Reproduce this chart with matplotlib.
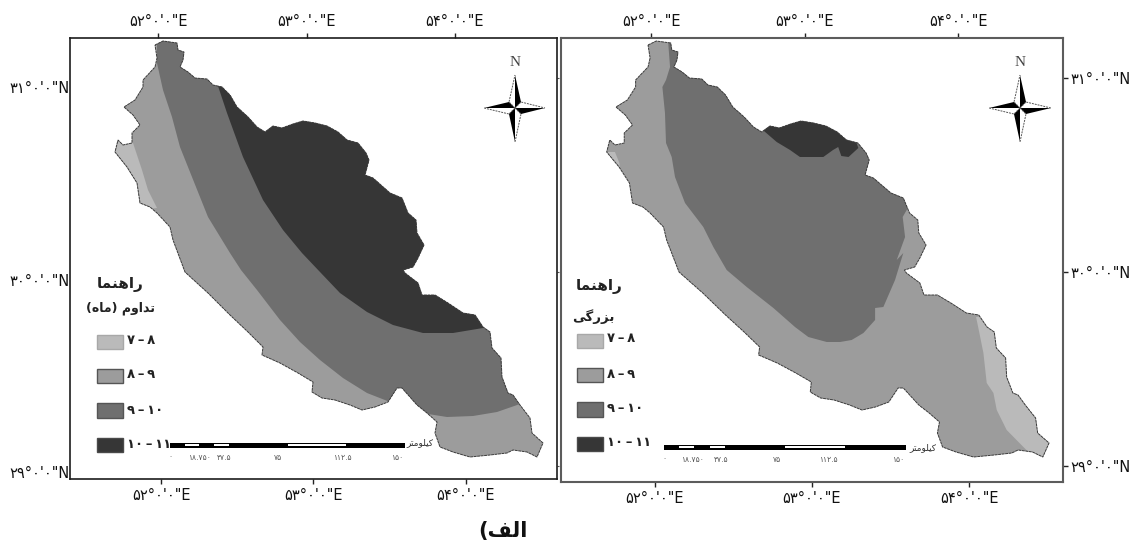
import numpy as np
import matplotlib
matplotlib.use("Agg")
import matplotlib.pyplot as plt
from matplotlib.patches import Rectangle

plt.rcParams['font.family'] = ['DejaVu Sans']

# map units of both panels
coast = [(155,45),(163,41),(170,42),(177,43),(178,50),(184,52),(183,60),(180,67),(188,72),(195,78),(207,79),
         (213,85),(222,87),(230,95),(237,107),(248,117),(257,127),(265,132),(273,126),(282,128),(293,124),
         (303,121),(315,123),(327,126),(338,132),(347,140),(358,143),(366,153),(369,160),(365,175),(373,178),(390,193),
         (402,198),(408,213),(416,220),(417,233),(424,245),(418,258),(413,267),(403,270),(405,273),(418,283),(422,295),
         (435,295),(448,303),(463,313),(475,315),(483,327),(490,332),(492,348),(501,358),(502,377),(508,393),
         (513,395),(520,405),(530,418),(532,433),(543,443),(537,457),(527,452),(513,450),(507,453),(490,455),
         (470,457),(453,452),(440,447),(435,433),(437,422),(427,413),(417,405),(402,388),(397,388),(388,402),
         (375,407),(362,410),(350,405),(335,400),(322,398),(312,392),(313,382),(298,373),(280,363),(262,355),
         (263,347),(248,332),(230,315),(208,293),(197,283),(185,272),(173,240),(170,227),(157,213),(150,207),
         (140,203),(137,183),(127,167),(115,152),(118,140),(123,145),(132,143),(132,133),(140,125),(133,115),
         (124,107),(135,100),(143,87),(143,80),(155,67),(157,58)]

# left panel zones (duration)
dur_7_8 = [(133,143),(142,170),(148,190),(157,208),(100,215),(100,140)]
dur_9_10 = [(157,30),(157,63),(163,90),(172,117),(180,147),(192,177),(208,217),(230,253),(241,270),(257,290),
            (280,320),(300,342),(320,360),(343,378),(367,393),(390,402),(428,414),(447,417),(473,416),(497,412),
            (520,404),(600,400),(600,30)]
dur_10_11 = [(218,30),(218,86),(227,113),(243,157),(263,200),(283,230),(302,253),(320,272),(340,293),(367,312),
             (393,325),(423,333),(453,333),(483,328),(600,328),(600,30)]

# right panel zones (magnitude)
mag_7_8 = [(472.4,317),(475.6,333),(479.5,353),(482.7,383),(489.2,393),(492.4,410),(502,430),(518.2,447),(523,452),
           (530,470),(600,470),(600,300)]
mag_7_8b = [(110,148),(115,152),(123,152),(127.3,163),(128,170),(110,170)]
mag_9_10 = [(174.7,30),(174.7,45),(176.3,67),(172.4,80),(168.9,87),(171.4,113),(172.4,143),(177.9,157),(181.1,177),
            (190.8,203),(208.5,227),(218.2,247),(231.1,270),(250.5,287),(276.3,308),(297.2,327),(310.1,337),
            (327.9,342),(340.8,342),(352,340),(363.4,333),(374.7,320),(374.7,308),(382.7,307),(394,280),(402,253),
            (395.6,260),(403.7,237),(401.4,217),(406.9,207),(520,150),(300,30)]
mag_10_11 = [(267.2,131),(279.5,142),(292.4,150),(302,157),(324.6,157),(334,150),(339,147),(342,156),(349,157),
             (358.5,148),(356,141),(370,100),(270,100)]

top_ticks = [158, 306.5, 455]
bottom_ticks = [161.3, 313.2, 465.7]
side_ticks = [78, 272.4, 466.4]
left_label_y = [87, 279.5, 472]
top_labels = ['۵۲°۰\'۰"E', '۵۳°۰\'۰"E', '۵۴°۰\'۰"E']
lat_labels = ['۳۱°۰\'۰"N', '۳۰°۰\'۰"N', '۲۹°۰\'۰"N']

legend_labels = ['۷\u2009–\u2009۸', '۸\u2009–\u2009۹', '۹\u2009–\u2009۱۰', '۱۰\u2009–\u2009۱۱']
legend_colors = ['#bababa', '#9c9c9c', '#6f6f6f', '#363636']
legend_edges = ['#a8a8a8', '#555555', '#555555', '#4a4a4a']

scale_km = [0, 9.375, 18.75, 28.125, 37.5, 75, 112.5, 150]
scale_labels = ['۰', '۱۸.۷۵۰', '۳۷.۵', '۷۵', '۱۱۲.۵', '۱۵۰']

FORMS = {'ا':(0xFE8D,0xFE8E), 'د':(0xFEA9,0xFEAA), 'ر':(0xFEAD,0xFEAE), 'ز':(0xFEAF,0xFEB0), 'و':(0xFEED,0xFEEE),
         'ب':(0xFE8F,0xFE90,0xFE91,0xFE92), 'ت':(0xFE95,0xFE96,0xFE97,0xFE98), 'ف':(0xFED1,0xFED2,0xFED3,0xFED4),
         'ل':(0xFEDD,0xFEDE,0xFEDF,0xFEE0), 'م':(0xFEE1,0xFEE2,0xFEE3,0xFEE4), 'ن':(0xFEE5,0xFEE6,0xFEE7,0xFEE8),
         'ه':(0xFEE9,0xFEEA,0xFEEB,0xFEEC), 'ک':(0xFB8E,0xFB8F,0xFB90,0xFB91), 'گ':(0xFB92,0xFB93,0xFB94,0xFB95),
         'ی':(0xFBFC,0xFBFD,0xFBFE,0xFBFF)}


def shape(word):
    # matplotlib has no arabic shaping, so pick the joined forms and reverse
    out = []
    for i, c in enumerate(word):
        if c not in FORMS:
            out.append({'(': ')', ')': '('}.get(c, c))
            continue
        prev_joins = i > 0 and word[i-1] in FORMS and len(FORMS[word[i-1]]) == 4
        next_letter = i + 1 < len(word) and word[i+1] in FORMS
        f = FORMS[c]
        if len(f) == 2:
            out.append(chr(f[1] if prev_joins else f[0]))
        elif prev_joins and next_letter:
            out.append(chr(f[3]))
        elif prev_joins:
            out.append(chr(f[1]))
        elif next_letter:
            out.append(chr(f[2]))
        else:
            out.append(chr(f[0]))
    return ''.join(out[::-1])


W, H = 1134, 547
fig = plt.figure(figsize=(W/100, H/100), dpi=100, facecolor='white')


def panel(x0, x1, y0, y1, xlim, ylim, zones, spine_color, spine_w):
    ax = fig.add_axes([x0/W, 1-y1/H, (x1-x0)/W, (y1-y0)/H])
    ax.set_xlim(*xlim)
    ax.set_ylim(*ylim)
    cx, cy = zip(*coast)
    base = ax.fill(cx, cy, color=legend_colors[1], lw=0)[0]
    for pts, col in zones:
        px, py = zip(*pts)
        ax.fill(px, py, color=col, lw=0)[0].set_clip_path(base)
    ax.fill(cx, cy, fill=False, edgecolor='#3a3a3a', lw=0.7, ls=(0, (3, 0.6)))
    for s in ax.spines.values():
        s.set_color(spine_color)
        s.set_linewidth(spine_w)
    ax.set_xticks(bottom_ticks)
    ax.set_xticklabels(top_labels, fontsize=10.5, color='#111111')
    ax.tick_params(axis='x', length=3.6, width=1, pad=3, color='#222222')
    top = ax.secondary_xaxis('top')
    top.set_xticks(top_ticks)
    top.set_xticklabels(top_labels, fontsize=10.5, color='#111111')
    top.tick_params(length=3.6, width=1, pad=3, color='#222222')
    for s in top.spines.values():
        s.set_visible(False)
    return ax


left = panel(69.5, 556.5, 38, 479, (69.5, 556.5), (479, 38),
             [(dur_9_10, legend_colors[2]), (dur_10_11, legend_colors[3]), (dur_7_8, legend_colors[0])],
             '#1c1c1c', 1.2)
left.set_yticks(left_label_y)
left.set_yticklabels(lat_labels, fontsize=10.5, color='#111111')
left.tick_params(axis='y', length=0, pad=0)
stub = left.secondary_yaxis('right')
stub.set_yticks(side_ticks)
stub.set_yticklabels([])
stub.tick_params(length=1.2, width=0.8, color='#555555')
for s in stub.spines.values():
    s.set_visible(False)

right = panel(561, 1063.3, 38, 481.7, (70.8, 556.8), (481.7, 38),
              [(mag_9_10, legend_colors[2]), (mag_10_11, legend_colors[3]), (mag_7_8, legend_colors[0]),
               (mag_7_8b, legend_colors[0])],
              '#5c5c5c', 1.5)
right.yaxis.tick_right()
right.set_yticks(side_ticks)
right.set_yticklabels(lat_labels, fontsize=10.5, color='#111111')
right.tick_params(axis='y', length=3.6, width=1, pad=1.5, color='#222222')

# overlay in figure pixels for legend, scale bar and north arrow
over = fig.add_axes([0, 0, 1, 1])
over.set_xlim(0, W)
over.set_ylim(H, 0)
over.axis('off')
over.patch.set_alpha(0)


def legend(x0, x1, tops, txt_x, txt_y):
    for i in range(4):
        over.add_patch(Rectangle((x0, tops[i]), x1-x0, 14.5, fc=legend_colors[i], ec=legend_edges[i], lw=1))
        over.text(txt_x, txt_y[i], legend_labels[i], fontsize=9.5, fontweight='bold', color='#222222',
                  ha='left', va='center')


def scale_bar(x0, x1, y, label_x, label_y, km_x, km_y):
    k = (x1 - x0) / scale_km[-1]
    over.add_patch(Rectangle((x0, y), x1-x0, 5, fc='black', lw=0))
    for i in range(1, len(scale_km)-1, 2):
        over.barh(y+2, (scale_km[i+1]-scale_km[i])*k, height=2.6, left=x0+scale_km[i]*k, color='white', lw=0)
    for lx, t in zip(label_x, scale_labels):
        over.text(lx, label_y, t, fontsize=5.5, color='#555555', ha='center', va='center')
    over.text(km_x, km_y, shape('کیلومتر'), fontsize=6.5, color='#333333', ha='center', va='center')


def north(cx, cy, arm_n, arm_s, arm_w, arm_e, n_y):
    s = 6
    arms = [((0, -arm_n), (s, -s), (-s, -s)), ((arm_e, 0), (s, s), (s, -s)),
            ((0, arm_s), (-s, s), (s, s)), ((-arm_w, 0), (-s, -s), (-s, s))]
    for tip, dark, light in arms:
        over.fill([cx, cx+tip[0], cx+dark[0]], [cy, cy+tip[1], cy+dark[1]], color='black', lw=0)
        over.plot([cx, cx+light[0], cx+tip[0]], [cy, cy+light[1], cy+tip[1]], color='#555555', lw=0.7, ls=(0, (2, 1)))
    over.text(cx, n_y, 'N', family='Liberation Serif', fontsize=11, color='#444444', ha='center', va='center')


legend(97, 122.5, [334.5, 368.5, 403, 437.5], 127, [341, 375, 410, 444])
legend(577, 603, [333.5, 367.5, 402, 436.5], 607, [339, 374, 408, 443])
scale_bar(170, 405, 443, [170, 199, 224, 278, 342, 397], 457, 420, 443)
scale_bar(664.3, 905.7, 445, [664, 692, 721, 777, 828, 898], 459, 923, 448)
north(515, 108, 33, 34, 31, 30, 63)
north(1020, 108, 33, 34, 31, 31, 63)

over.text(120, 285, shape('راهنما'), fontsize=11, fontweight='bold', color='#222222', ha='center', va='center')
over.text(120, 308, shape('تداوم (ماه)'), fontsize=9, fontweight='bold', color='#222222', ha='center', va='center')
over.text(599, 287, shape('راهنما'), fontsize=11, fontweight='bold', color='#222222', ha='center', va='center')
over.text(593, 317, shape('بزرگی'), fontsize=9.5, fontweight='bold', color='#222222', ha='center', va='center')
over.text(503, 531, shape('الف)'), fontsize=15, fontweight='bold', color='#111111', ha='center', va='center')

fig.savefig('out.png', dpi=100)
